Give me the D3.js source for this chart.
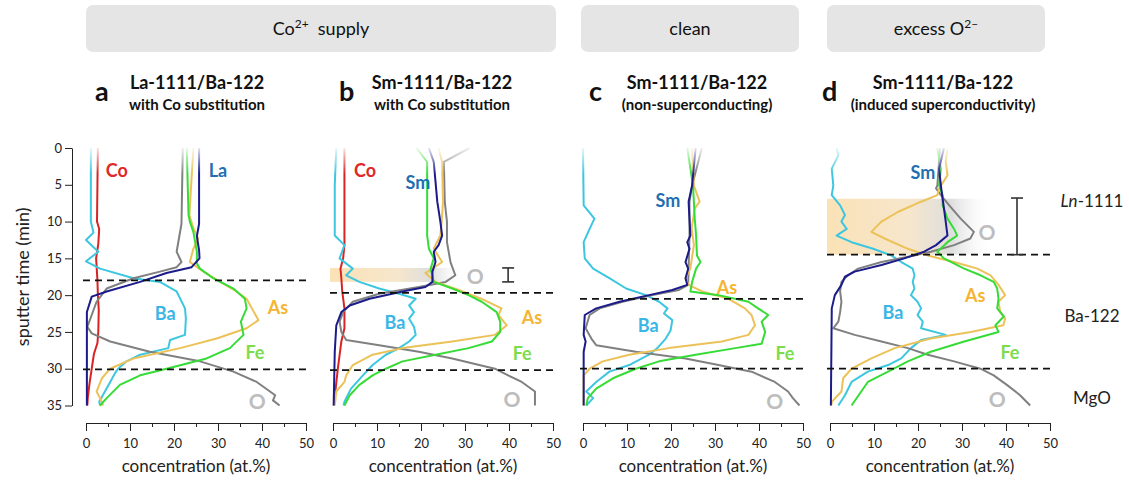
<!DOCTYPE html>
<html lang="en">
<head>
<meta charset="UTF-8">
<title>Depth profiles</title>
<script src="https://cdn.jsdelivr.net/npm/d3@7"></script>
<style>
  body { margin: 0; background: #fff; }
  svg { font-family: Lato, "Open Sans", sans-serif; }
</style>
</head>
<body>
<div id="chart"></div>
<script>
// [sputter time (min), concentration (at.%)]
// panel a: La-1111/Ba-122 with Co
var aCo = [[0,2.7],[5,2.6],[10,2.5],[11,3.0],[13,2.8],[15,2.3],[18,2.6],[20,2.7],[22,2.9],[25,2.8],[26.5,2.6],[28,1.8],[30,1.3],[32,0.8],[34,0.4],[35,0.3]]
var aBa = [[0,1.1],[10,1.1],[11.5,1.7],[12.5,0],[14.1,2.8],[15.4,0],[16.4,3.2],[17.7,10.8],[18.2,16.8],[19.5,20.6],[21.8,22.5],[23.2,22.7],[25.4,22.5],[26.1,19.1],[27.2,18.7],[28.1,12.3],[29,9.2],[30,7.3],[30.6,6.6],[31.8,5.5],[33.1,4.3],[34.5,3.0],[35,3.2]]
var aLa = [[0,25.7],[10.3,25.7],[12,25.2],[13.9,25.7],[15,25.8],[16.2,24],[17,18.3],[18.2,12.3],[19.5,4.7],[20.2,1.3],[22.3,0.2],[35,0.2]]
var aO  = [[0,22],[10.3,21.7],[14.1,20.6],[15.5,21.7],[16.2,20.6],[16.8,16.8],[17.7,10.8],[19.1,4.7],[20.9,2.4],[22.7,1.3],[24.3,0.3],[25.2,1.3],[26.3,5.5],[27.7,14.5],[29,25.9],[30.4,33.5],[31.8,38.8],[33.6,43],[34.3,42.5],[35,44]]
var aFe = [[0,22.9],[9.1,23.3],[10,23.6],[11.4,24.4],[14.1,25.2],[15.7,25.2],[16.4,25.9],[17.7,28.9],[19.1,33.5],[20.5,36.1],[21.8,36.5],[23.6,35.2],[25.4,35.8],[27.2,32.7],[28.6,27.4],[30,18.3],[30.9,12.3],[32.2,7.7],[34,4.7],[35,3.2]]
var aAs = [[0,24.4],[9.1,23.5],[10.9,24.4],[12.3,25.5],[13.7,24.4],[15.5,23.6],[16.8,26.7],[18.2,30.5],[19.5,34.2],[20.5,36.5],[21.8,37.7],[23.4,39.2],[24.5,36.5],[25.9,29.7],[27.2,21.4],[28.6,10.8],[30,5.5],[31.3,3.6],[33.1,2.4],[34,3.2],[35,3.9]]

// panel b: Sm-1111/Ba-122 with Co
var bCo = [[0,2.6],[13.2,2.6],[15,2.3],[16.4,1.7],[17.7,1.9],[19.5,2.1],[21.8,2.6],[24.5,2.6],[26.3,1.9],[30,1.1],[32.7,0.6],[35,0.2]]
var bBa = [[0,0.75],[5,0.4],[11.9,0.4],[13.2,2.6],[15,1.5],[16.4,4.5],[17.3,3],[18.2,6],[19.1,10.5],[19.8,15],[20.5,18.8],[21.4,17.3],[22.3,18.4],[23.2,17.3],[24.3,18.4],[25.4,18.8],[26.3,17.3],[27.2,15],[28.1,12],[29.5,9],[30.9,6.8],[32.7,4.1],[34.5,2.6],[35,2.4]]
var bSm = [[0,21.8],[1.9,22.9],[7.3,23.7],[10,24.4],[11.9,24.8],[13.2,24],[14.1,22.9],[15.5,23.3],[16.8,22.6],[18.2,22.6],[18.9,21],[19.5,15.8],[20.5,8.3],[21.4,3.8],[22.3,1.9],[24.1,0.75],[27.7,0.4],[35,0.15]]
var bO  = [[0,31],[1.9,25.2],[7.3,25.4],[10,25.9],[12.8,25.9],[15.5,26.7],[17.3,27.8],[18.2,25.6],[18.9,19.5],[19.8,10.5],[20.9,4.5],[22.3,2.3],[23.6,1.5],[25,1.9],[26.1,3],[26.8,10.5],[27.7,19.5],[28.6,27.1],[30,36.8],[30.9,39.8],[31.8,42.9],[33.1,45.9],[35,45.9]]
var bFe = [[0,19],[1.9,21.4],[11.9,21.4],[13.7,21.8],[15,22.9],[16.4,22.2],[18.2,22.9],[19.1,27.1],[20,30.8],[20.9,33.8],[22.3,37.2],[23.6,38],[25,38],[26.3,36.1],[27.2,30.8],[28.1,23.3],[29,15.8],[30,12],[30.9,9],[32.2,6],[33.6,3.8],[35,2.6]]
var bAs = [[0,24],[1.9,24.8],[7.3,25],[10,24.7],[11.9,24.4],[13.7,22.9],[15.5,24.8],[16.4,22.6],[17,21],[18.2,23.3],[19.3,28.6],[20.5,33.8],[21.8,38.3],[22.7,37.6],[24.1,39.5],[25.4,36.8],[26.3,27.1],[27.2,15.8],[28.1,9],[29.5,4.5],[30.9,3],[31.8,2.6],[33.1,0.75],[35,0.4]]

// panel c: Sm-1111/Ba-122 non-superconducting
var cBa = [[0,0],[7.8,0.15],[9.6,2.6],[11,1.5],[12.8,0.15],[15,0.4],[16.4,2.3],[17.7,6],[19.1,9.8],[20,14.3],[20.9,17.3],[21.8,19.2],[22.5,18.4],[23.4,20.3],[24.8,19.9],[25.9,18.8],[27.2,16.9],[28.1,15],[29.5,10.5],[30.4,6],[31.8,3],[33.1,0.75],[34,2.3],[35,0.75]]
var cSm = [[0,25.6],[5.1,24.8],[7.3,24],[9.6,24.2],[11.9,24.4],[12.8,23.7],[13.7,24.2],[15.5,23.3],[16.4,23.9],[17.7,23.3],[18.6,23.7],[19.3,20.3],[20,15],[20.9,8.3],[21.8,3],[22.7,0.4],[25.4,0.15],[26.3,0.6],[27.7,0.15],[35,0.15]]
var cO  = [[0,27],[5.1,24.8],[7.3,24.2],[11.9,24.2],[18.6,23.9],[19.3,21.8],[20,15.8],[20.9,9],[21.8,3.8],[22.7,1.5],[24.5,0.6],[25.9,1.9],[26.8,3],[27.7,12],[28.6,23.3],[29.5,30.8],[30.4,38.3],[31.8,43.6],[33.1,46.6],[34,47.7],[35,49.2]]
var cFe = [[0,23.7],[5.1,25],[7.3,25.2],[9.6,25.4],[11.9,25.7],[14.6,25.9],[15.5,26.7],[16.4,25.7],[18.2,24.8],[19.5,24.4],[20,30.8],[20.9,37.6],[21.8,39.8],[22.7,42.1],[23.6,40.6],[25,41.4],[26.6,40.6],[27.2,34.6],[28.1,25.6],[29,17.3],[30,12],[31.3,6.8],[32.7,3],[34,1.1],[35,0.75]]
var cAs = [[0,24.8],[5.1,25.2],[7.3,26.5],[8.2,25.4],[10.9,24.7],[13.2,25.2],[16.4,24.4],[17.7,23.3],[18.6,24],[19.5,27.1],[20.5,33.1],[21.8,36.8],[22.7,38.3],[24.1,39.1],[25.4,37.6],[26.3,31.6],[27.2,19.5],[28.1,10.5],[29,4.5],[30,1.5],[30.9,0.15],[35,0.15]]

// panel d: Sm-1111/Ba-122 induced superconductivity
var dBa = [[0,1.5],[1,1.9],[2.8,0.4],[5.1,0.75],[6.4,0.4],[7.8,2.3],[9.1,3.4],[10,2.6],[11,3.8],[11.9,1.5],[12.8,4.9],[13.7,9.8],[14.6,13.9],[15.5,16.2],[16.4,18.8],[17.3,19.2],[18.2,18.8],[19.1,19.2],[20,18.4],[20.9,19.9],[21.8,20.7],[22.7,19.9],[23.6,21.1],[24.5,20.7],[25.4,26.3],[26.1,20.7],[27.2,18.4],[28.6,16.2],[29.5,13.2],[30.4,8.6],[31.8,4.9],[33.6,3.4],[35,1.9]]
var dSm = [[0,25.9],[2.8,24.8],[5.1,25.2],[6.9,25.6],[8.2,25.9],[10,26.3],[11.9,26.7],[13.2,24.1],[14.1,21.4],[15,16.9],[15.9,11.7],[16.8,5.6],[17.5,3.4],[18.6,2.6],[20,1.1],[21.8,0.4],[35,0.2]]
var dO  = [[0,25],[5.1,24.4],[5.5,24.1],[6.4,25.2],[7.8,27.1],[9.6,29.7],[11.4,32.7],[12.3,31.9],[13.2,28.2],[14.1,22.9],[14.6,19.2],[15.5,11.7],[16.4,6.4],[17.3,4.1],[18.2,2.6],[19.5,2.3],[20.9,2.6],[22.3,2.3],[23.6,1.9],[24.5,0.75],[25.4,5.6],[26.3,11.7],[27.2,17.7],[28.1,22.2],[29,28.2],[30,34.2],[30.9,37.2],[32.2,40.2],[33.6,43.2],[35,45.5]]
var dFe = [[0,24.4],[2.8,25.2],[5.1,24.8],[6.4,25.6],[7.8,25.6],[9.6,26.7],[11,28.2],[11.9,28.9],[12.8,26.7],[14.1,24.4],[15,25.9],[16.4,30.5],[17.3,34.2],[18.2,37.2],[19.1,38],[20.5,38.3],[21.8,38],[22.9,39.5],[24.1,37.6],[25,38.3],[26.3,30.5],[27.7,22.9],[29,17.7],[30.4,13.2],[31.8,8.6],[33.1,7.1],[35,4.9]]
var dAs = [[0,26.7],[1.9,26.3],[3.7,26.7],[5.5,24.8],[6.4,24.4],[7.3,20.7],[8.7,15.4],[10,11.7],[11.4,9.4],[12.3,12.4],[13.7,17.7],[14.6,22.2],[15.5,28.2],[16.4,33.5],[17.3,36.5],[18.6,38.3],[20,39.8],[20.9,38.3],[22.3,38.7],[23.2,39.8],[24.1,39.4],[25,32],[25.9,22.9],[27.2,14.7],[28.6,9.4],[30,4.9],[31.3,3],[33.1,2.6],[34.5,0.4],[35,0.3]]

// interfaces (dashed lines), min
var aDash = [18, 30.1]
var bDash = [19.7, 30.2]
var cDash = [20.5, 30]
var dDash = [14.5, 30]

var timeTicks = [0, 5, 10, 15, 20, 25, 30, 35]
var concTicks = [0, 10, 20, 30, 40, 50]
var concMinor = [5, 15, 25, 35, 45]

var lineColor = { Co: '#d92323', La: '#1b1b8a', Sm: '#1b1b8a', Ba: '#3cc6e0', As: '#ecc258', Fe: '#36dc36', O: '#808080' }
var labelColor = { Co: '#e02828', La: '#1f6fb2', Sm: '#1f6fb2', Ba: '#3ab6e6', As: '#f4b532', Fe: '#7ddc4c', O: '#bdbdbd' }

var width = 1129
var height = 484
var top0 = 148, bottom0 = 405.5
var panelW = 220

var panels = [
    { key: 'a', x0: 86, dash: aDash, series: [['Co', aCo], ['Ba', aBa], ['O', aO], ['As', aAs], ['Fe', aFe], ['La', aLa]],
      title: 'La-1111/Ba-122', sub: 'with Co substitution', tx: 197, lx: 95,
      labels: [['Co', 7, 3], ['La', 30, 3], ['Ba', 18, 22.4], ['As', 43.6, 21.6], ['Fe', 38.4, 27.7], ['O', 38.9, 34.3]] },
    { key: 'b', x0: 333, dash: bDash, series: [['Co', bCo], ['Ba', bBa], ['O', bO], ['As', bAs], ['Fe', bFe], ['Sm', bSm]],
      title: 'Sm-1111/Ba-122', sub: 'with Co substitution', tx: 442, lx: 339,
      labels: [['Co', 7.3, 3], ['Sm', 19.3, 4.6], ['O', 32.3, 17.3], ['Ba', 14.1, 23.7], ['As', 45.2, 23], ['Fe', 43, 27.9], ['O', 40.7, 34]],
      band: [16.3, 18.2, 30], bar: [39.8, 16.3, 18.2] },
    { key: 'c', x0: 583, dash: cDash, series: [['Ba', cBa], ['O', cO], ['As', cAs], ['Fe', cFe], ['Sm', cSm]],
      title: 'Sm-1111/Ba-122', sub: '(non-superconducting)', tx: 697, lx: 589,
      labels: [['Sm', 19.3, 7.1], ['As', 32.7, 18.9], ['Ba', 14.8, 24.1], ['Fe', 45.9, 27.9], ['O', 43.6, 34.3]] },
    { key: 'd', x0: 830, dash: dDash, series: [['Ba', dBa], ['O', dO], ['As', dAs], ['Fe', dFe], ['Sm', dSm]],
      title: 'Sm-1111/Ba-122', sub: '(induced superconductivity)', tx: 943, lx: 822,
      labels: [['Sm', 21.1, 3.3], ['O', 35.7, 11.4], ['As', 33, 20], ['Ba', 14.3, 22.3], ['Fe', 40.9, 27.7], ['O', 38, 34]],
      band: [6.9, 14.5, 37], bar: [42.5, 6.8, 14.5] }
]

var svg = d3.select('#chart')
    .append('svg')
    .attr('width', width)
    .attr('height', height)

var defs = svg.append('defs')

// lines fade out toward t = 0
var fade = defs.append('linearGradient')
    .attr('id', 'fadeTop')
    .attr('gradientUnits', 'userSpaceOnUse')
    .attr('x1', 0).attr('x2', 0).attr('y1', 146).attr('y2', 174)
fade.append('stop').attr('offset', 0).attr('stop-color', '#fff').attr('stop-opacity', 0.05)
fade.append('stop').attr('offset', 1).attr('stop-color', '#fff').attr('stop-opacity', 1)
defs.append('mask').attr('id', 'fadeMask')
    .attr('maskUnits', 'userSpaceOnUse')
    .attr('x', 0).attr('y', 0).attr('width', width).attr('height', height)
    .append('rect')
    .attr('x', 0).attr('y', 0).attr('width', width).attr('height', height)
    .attr('fill', 'url(#fadeTop)')

var bandGrad = defs.append('linearGradient').attr('id', 'bandGrad')
bandGrad.append('stop').attr('offset', 0).attr('stop-color', '#fbe2b6')
bandGrad.append('stop').attr('offset', 0.5).attr('stop-color', '#f6e6cc')
bandGrad.append('stop').attr('offset', 0.75).attr('stop-color', '#dedede')
bandGrad.append('stop').attr('offset', 1).attr('stop-color', '#ffffff').attr('stop-opacity', 0)

var y = d3.scaleLinear().domain([0, 35]).range([top0, bottom0])

// group header boxes
var headers = [
    { x1: 86, x2: 556, main: 'Co', sup: '2+', rest: ' supply' },
    { x1: 581, x2: 799, main: 'clean', sup: '', rest: '' },
    { x1: 827, x2: 1045, main: 'excess O', sup: '2\u2013', rest: '' }
]
headers.forEach(h => {
    svg.append('rect')
        .attr('x', h.x1).attr('y', 5)
        .attr('width', h.x2 - h.x1).attr('height', 47)
        .attr('rx', 7)
        .attr('fill', '#e5e5e5')
    var t = svg.append('text')
        .attr('x', (h.x1 + h.x2) / 2).attr('y', 35)
        .attr('text-anchor', 'middle')
        .attr('font-size', 18)
        .attr('fill', '#111')
    t.append('tspan').text(h.main)
    if (h.sup) t.append('tspan').attr('font-size', 12).attr('dy', -7).text(h.sup)
    if (h.rest) t.append('tspan').attr('dy', 7).text('\u00a0\u00a0' + h.rest.trim())
})

panels.forEach(p => {
    var x = d3.scaleLinear().domain([0, 50]).range([p.x0, p.x0 + panelW])
    var g = svg.append('g')

    // titles
    g.append('text')
        .attr('x', p.lx).attr('y', 101)
        .attr('font-size', 27).attr('font-weight', 'bold').attr('fill', '#111')
        .text(p.key)
    g.append('text')
        .attr('x', p.tx).attr('y', 89)
        .attr('text-anchor', 'middle')
        .attr('font-size', 18).attr('font-weight', 'bold').attr('fill', '#111')
        .text(p.title)
    g.append('text')
        .attr('x', p.tx).attr('y', 110)
        .attr('text-anchor', 'middle')
        .attr('font-size', 15).attr('font-weight', 'bold').attr('fill', '#111')
        .text(p.sub)

    // highlighted O-rich region
    if (p.band) {
        g.append('rect')
            .attr('x', x(0) - 3)
            .attr('y', y(p.band[0]))
            .attr('width', x(p.band[2]) - x(0) + 3)
            .attr('height', y(p.band[1]) - y(p.band[0]))
            .attr('fill', 'url(#bandGrad)')
    }

    // profiles
    var line = d3.line()
        .x(d => x(d[1]))
        .y(d => y(d[0]))
    g.append('g')
        .attr('mask', 'url(#fadeMask)')
        .selectAll('path')
        .data(p.series)
        .join('path')
        .attr('d', d => line(d[1]))
        .attr('fill', 'none')
        .attr('stroke', d => lineColor[d[0]])
        .attr('stroke-width', 2)
        .attr('stroke-linejoin', 'round')

    // interfaces
    g.selectAll('.dash')
        .data(p.dash)
        .join('line')
        .attr('x1', x(0) - 3).attr('x2', x(50) + 1)
        .attr('y1', d => y(d)).attr('y2', d => y(d))
        .attr('stroke', '#111')
        .attr('stroke-width', 1.8)
        .attr('stroke-dasharray', '7,5')

    // thickness bar
    if (p.bar) {
        var bx = x(p.bar[0])
        var bar = g.append('g').attr('stroke', '#333').attr('stroke-width', 1.6)
        bar.append('line').attr('x1', bx).attr('x2', bx).attr('y1', y(p.bar[1])).attr('y2', y(p.bar[2]))
        bar.append('line').attr('x1', bx - 6).attr('x2', bx + 6).attr('y1', y(p.bar[1])).attr('y2', y(p.bar[1]))
        bar.append('line').attr('x1', bx - 6).attr('x2', bx + 6).attr('y1', y(p.bar[2])).attr('y2', y(p.bar[2]))
    }

    // element labels
    g.selectAll('.lbl')
        .data(p.labels)
        .join('text')
        .attr('x', d => x(d[1]))
        .attr('y', d => y(d[2]))
        .attr('text-anchor', 'middle')
        .attr('dominant-baseline', 'central')
        .attr('font-size', d => d[0] == 'O' ? 21 : 18)
        .attr('font-weight', 'bold')
        .attr('fill', d => labelColor[d[0]])
        .text(d => d[0])

    // x axis
    var axY = 423
    var ax = g.append('g')
        .attr('transform', `translate(0,${axY})`)
        .call(d3.axisBottom(x).tickValues(concTicks).tickSize(8).tickSizeOuter(0))
    ax.selectAll('text').attr('font-size', 13).attr('font-family', 'Lato, sans-serif').attr('fill', '#222').attr('dy', '1.1em')
    ax.selectAll('line, path').attr('stroke', '#222')
    var axm = g.append('g')
        .attr('transform', `translate(0,${axY})`)
        .call(d3.axisBottom(x).tickValues(concMinor).tickSize(4).tickFormat(''))
    axm.select('.domain').remove()
    axm.selectAll('line').attr('stroke', '#222')

    g.append('text')
        .attr('x', x(25)).attr('y', 472)
        .attr('text-anchor', 'middle')
        .attr('font-size', 17).attr('fill', '#222')
        .text('concentration (at.%)')
})

// y axis
var ay = svg.append('g')
    .attr('transform', 'translate(72,0)')
    .call(d3.axisLeft(y).tickValues(timeTicks).tickSize(7).tickSizeOuter(0))
ay.selectAll('text').attr('font-size', 13).attr('font-family', 'Lato, sans-serif').attr('fill', '#222')
ay.selectAll('line, path').attr('stroke', '#222')

svg.append('text')
    .attr('transform', 'translate(22,' + y(17.5) + ') rotate(-90)')
    .attr('text-anchor', 'middle')
    .attr('dominant-baseline', 'central')
    .attr('font-size', 18).attr('fill', '#222')
    .text('sputter time (min)')

// layer names on the right
var layers = [['Ln', '-1111', 7], ['', 'Ba-122', 22.7], ['', 'MgO', 33.8]]
layers.forEach(l => {
    var t = svg.append('text')
        .attr('x', 1092).attr('y', y(l[2]))
        .attr('text-anchor', 'middle')
        .attr('dominant-baseline', 'central')
        .attr('font-size', 17).attr('fill', '#222')
    if (l[0]) t.append('tspan').attr('font-style', 'italic').text(l[0])
    t.append('tspan').text(l[1])
})
</script>
</body>
</html>
